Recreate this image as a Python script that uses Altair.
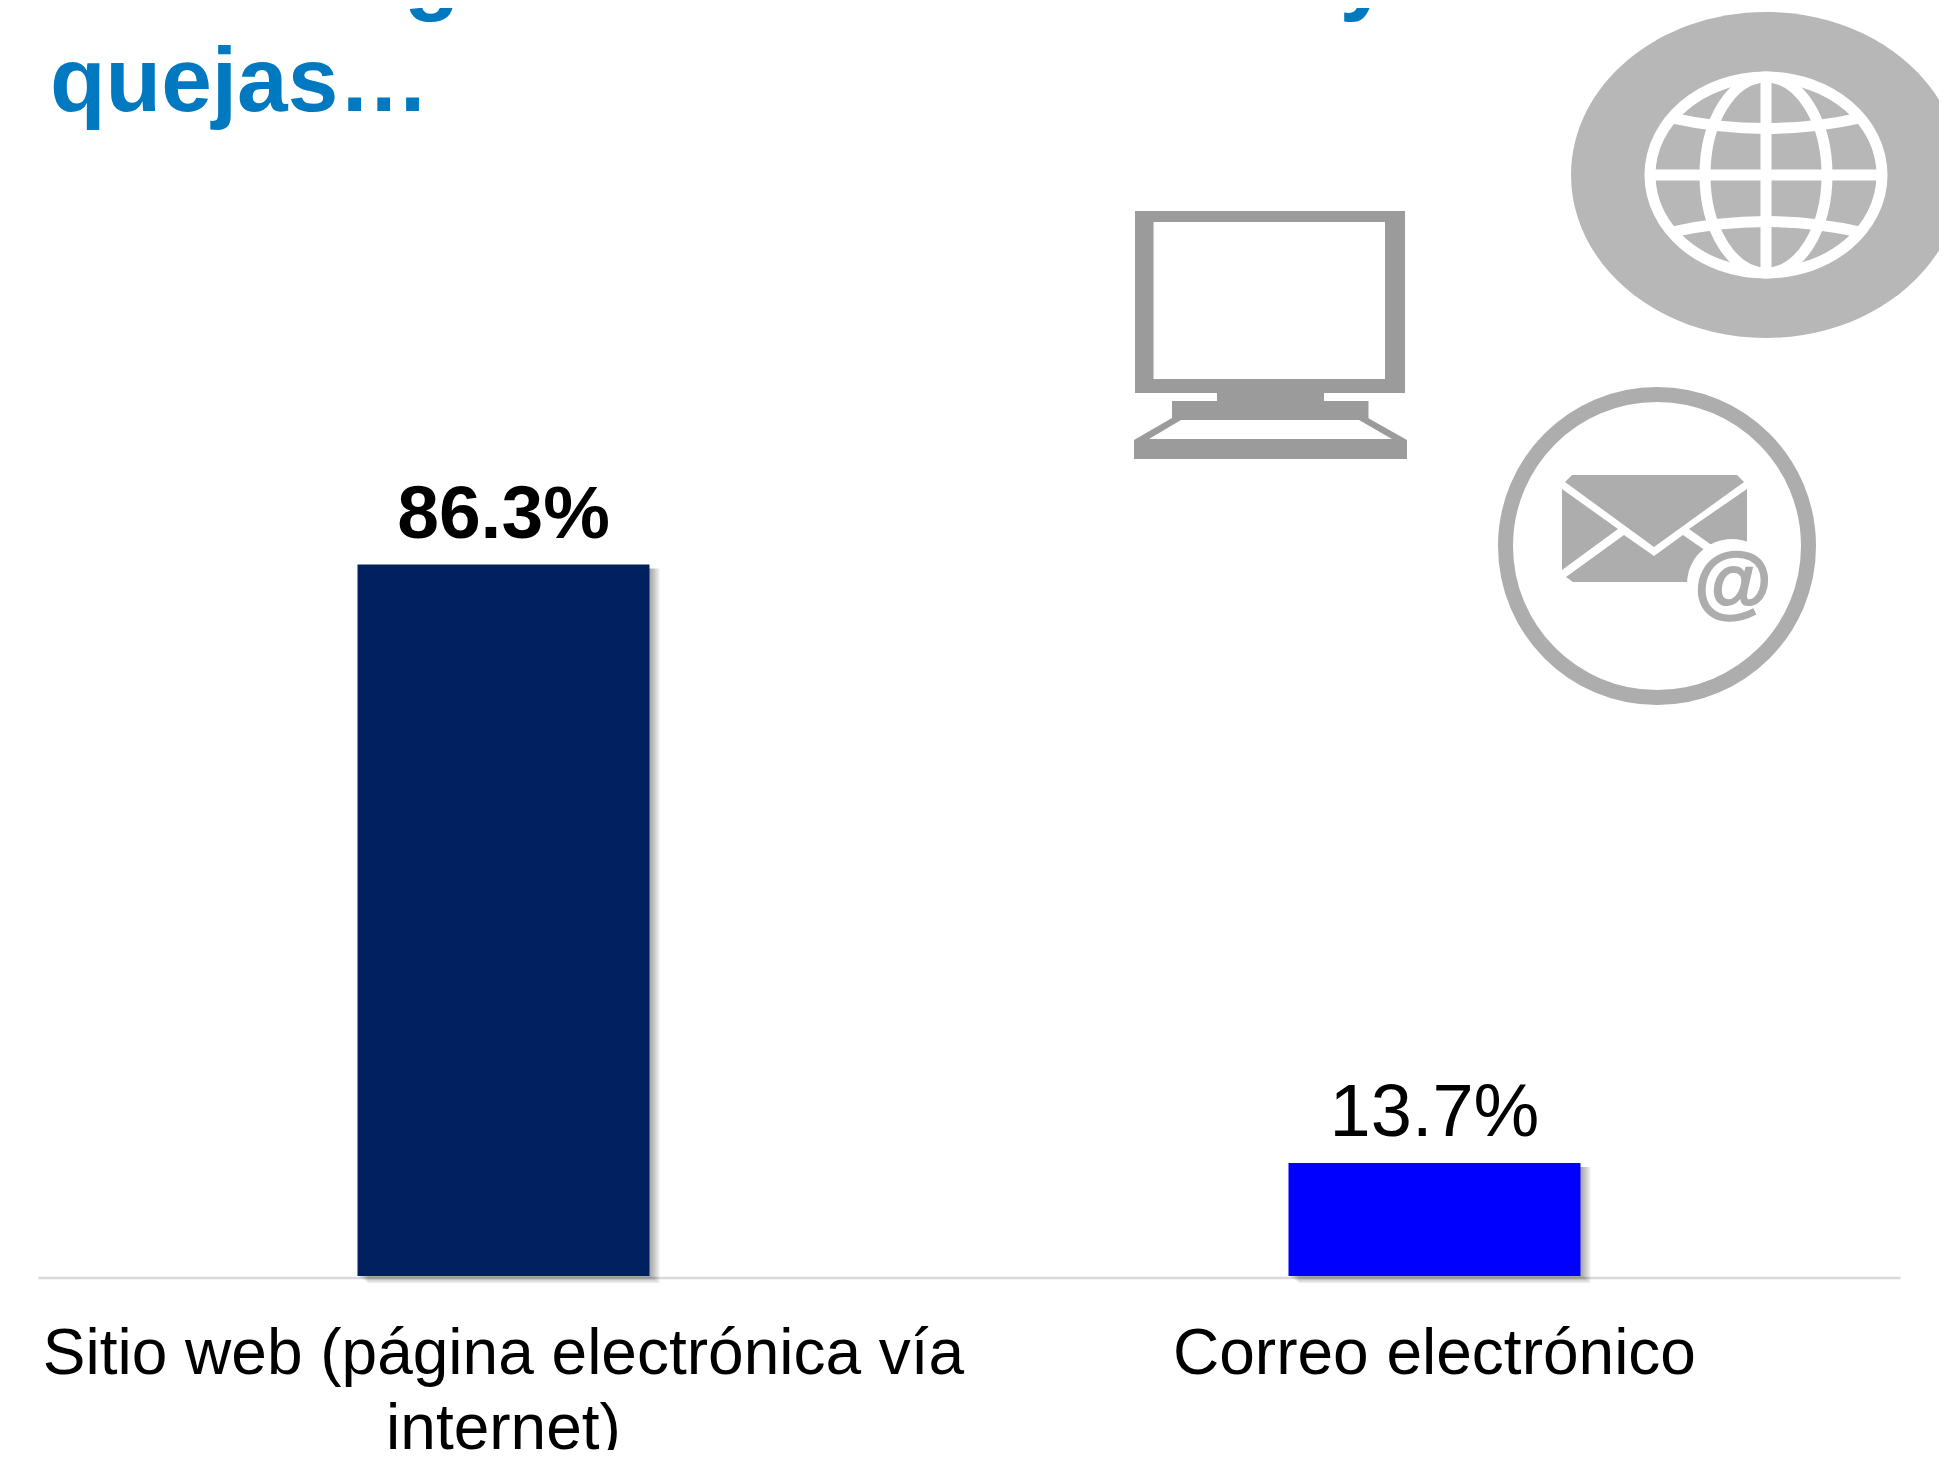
import altair as alt

categories = ["Sitio web (página electrónica vía internet)", "Correo electrónico"]
values = [86.3, 13.7]
value_labels = ["86.3%", "13.7%"]
label_weights = ["bold", "normal"]
bar_colors = ["#002060", "#0000FF"]
title_lines = ["Su es registros de denuncias y/o", "quejas…"]

FONT = "Liberation Sans"
ORIGIN_X, ORIGIN_Y = 38, 8
PLOT_W, PLOT_H = 1862, 1268
Y_MAX = PLOT_H / 8.245

rows = [
    {"category": c, "value": v, "label": l, "weight": w, "color": k}
    for c, v, l, w, k in zip(categories, values, value_labels, label_weights, bar_colors)
]
base = alt.Chart(alt.Data(values=rows))

x_enc = alt.X(
    "category:N",
    sort=categories,
    scale=alt.Scale(paddingInner=0, paddingOuter=0),
    title=None,
    axis=alt.Axis(
        labelAngle=0,
        labelFont=FONT,
        labelFontSize=64,
        labelColor="#000000",
        labelLimit=0,
        labelPadding=96,
        labelLineHeight=75,
        labelBaseline="alphabetic",
        labelExpr="indexof(datum.label, ' internet') > 0 ? ['Sitio web (página electrónica vía', 'internet)'] : datum.label",
        ticks=False,
        domainColor="#D9D9D9",
        domainWidth=2.5,
        offset=1.5,
    ),
)
y_enc = alt.Y("value:Q", scale=alt.Scale(domain=[0, Y_MAX]), axis=None)

shadows = [
    base.mark_bar(
        width=292, color="#000000", opacity=0.075,
        xOffset=k, yOffset=4, y2Offset=k * 0.7,
    ).encode(x=x_enc, y=y_enc, y2=alt.datum(0))
    for k in (2, 4, 6, 8, 10)
]

bars = base.mark_bar(width=292).encode(
    x=x_enc,
    y=y_enc,
    color=alt.Color("color:N", scale=None, legend=None),
)

bold_text = base.transform_filter("datum.weight == 'bold'").mark_text(
    font=FONT, fontSize=75, fontWeight="bold", color="#000000", baseline="alphabetic", dy=-26
).encode(x=x_enc, y=y_enc, text="label:N")
plain_text = base.transform_filter("datum.weight == 'normal'").mark_text(
    font=FONT, fontSize=74, color="#000000", baseline="alphabetic", dy=-27
).encode(x=x_enc, y=y_enc, text="label:N")

one = alt.Chart(alt.Data(values=[{"k": 1}]))


def title_text(text, baseline_y):
    return one.mark_text(
        text=text, font=FONT, fontSize=91, fontWeight="bold", color="#0079C1",
        align="left", baseline="alphabetic",
    ).encode(x=alt.value(50 - ORIGIN_X), y=alt.value(baseline_y - ORIGIN_Y))


def shape(path, fill=None, stroke=None, width=0):
    """A decorative pictogram drawn as a custom symbol, path in page pixels."""
    kw = {"filled": fill is not None, "opacity": 1, "size": 4, "shape": path}
    if fill is not None:
        kw["fill"] = fill
        kw["strokeWidth"] = 0
    if stroke is not None:
        kw["stroke"] = stroke
        kw["strokeWidth"] = width
        kw["fillOpacity"] = 0
    return one.mark_point(**kw).encode(x=alt.value(-ORIGIN_X), y=alt.value(-ORIGIN_Y))


def ellipse(cx, cy, rx, ry):
    return f"M{cx - rx},{cy}A{rx},{ry} 0 1,0 {cx + rx},{cy}A{rx},{ry} 0 1,0 {cx - rx},{cy}Z"


MON = "#9B9B9B"
monitor = [
    shape("M1135,211H1405V393H1135Z", fill=MON),
    shape("M1153.5,222H1385V379H1153.5Z", fill="#FFFFFF"),
    shape("M1217,393H1324V401H1217Z", fill=MON),
    shape("M1172,401H1368.5V420H1172Z", fill=MON),
    shape("M1172,418L1368,418L1407,440V459H1134V440Z", fill=MON),
    shape("M1181,420L1359,420L1392,439L1149,439Z", fill="#FFFFFF"),
]

GLOBE = "#B7B7B7"
globe = [
    shape(ellipse(1766, 175, 195, 163), fill=GLOBE),
    shape(ellipse(1766, 175, 116, 98), stroke="#FFFFFF", width=11),
    shape(ellipse(1766, 175, 61, 98), stroke="#FFFFFF", width=11),
    shape("M1766,77V273", stroke="#FFFFFF", width=11),
    shape("M1650,175H1882", stroke="#FFFFFF", width=11),
    shape("M1672,118Q1766,139 1860,118", stroke="#FFFFFF", width=11),
    shape("M1672,232Q1766,211 1860,232", stroke="#FFFFFF", width=11),
]

MAIL = "#ADADAD"
at_sign = one.mark_text(
    text="@", font=FONT, fontSize=80, fontWeight="bold", color=MAIL,
    stroke=MAIL, strokeWidth=1.5, align="center", baseline="middle",
).encode(x=alt.value(1733 - ORIGIN_X), y=alt.value(584 - ORIGIN_Y))
mail = [
    shape(ellipse(1657, 546, 151.5, 151.5), stroke=MAIL, width=15),
    shape("M1565,482L1572,475H1737L1744,482L1654,547Z", fill=MAIL),
    shape("M1562,489L1618,529L1562,570Z", fill=MAIL),
    shape("M1747,489L1689,529L1713,546L1747,543Z", fill=MAIL),
    shape("M1566,577L1624,535L1654,556L1683,535L1706,551L1688,582H1573Z", fill=MAIL),
    shape(ellipse(1732, 584, 45, 45), fill="#FFFFFF"),
    at_sign,
]

chart = alt.layer(
    *shadows,
    bars,
    bold_text,
    plain_text,
    title_text(title_lines[0], 3),
    title_text(title_lines[1], 111),
    *monitor,
    *globe,
    *mail,
).properties(
    width=PLOT_W,
    height=PLOT_H,
    autosize=alt.AutoSizeParams(type="none"),
    padding={"left": 30, "top": 0, "right": 39, "bottom": 174},
).configure_view(stroke=None)

chart.save("out.html", embed_options={"renderer": "svg", "actions": False})
